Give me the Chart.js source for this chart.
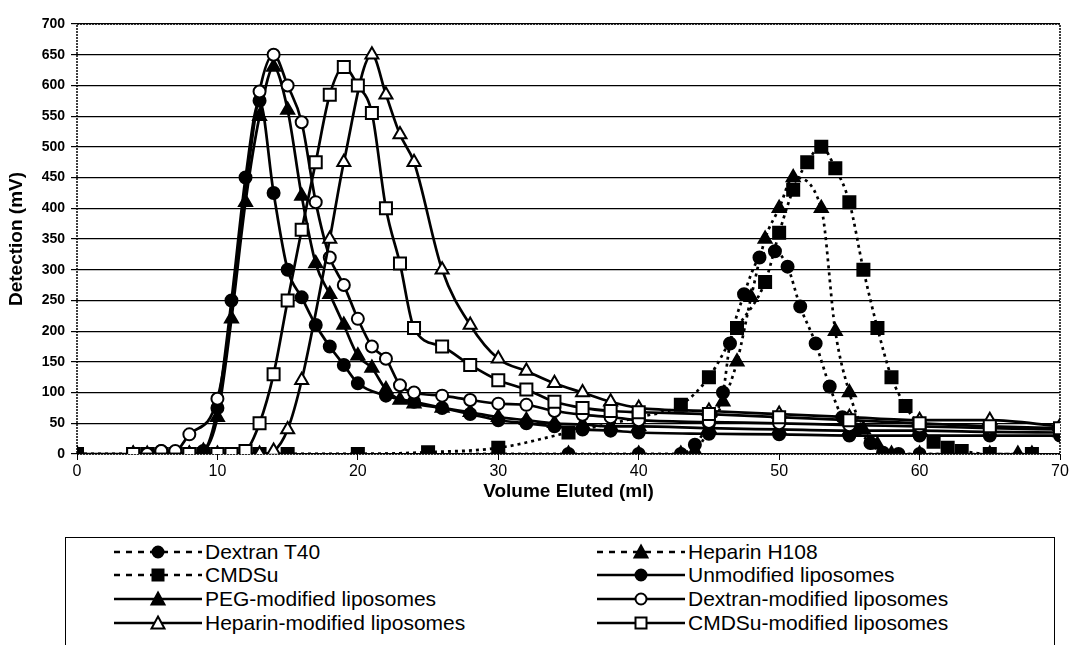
<!DOCTYPE html>
<html>
<head>
<meta charset="utf-8">
<title>Elution profiles</title>
<script src="https://cdn.jsdelivr.net/npm/chart.js@4.4.1/dist/chart.umd.min.js"></script>
<style>
  html, body { margin: 0; padding: 0; background: #fff; overflow: hidden; }
  #wrap { position: relative; width: 1071px; height: 645px; overflow: hidden; font-family: "Liberation Sans", Arial, sans-serif; }
  #chart { position: absolute; left: 0; top: 0; }
  #legend { position: absolute; left: 65px; top: 537px; width: 990px; height: 140px; border: 1px solid #000; box-sizing: border-box; }
  .item { position: absolute; display: flex; align-items: center; height: 24px; font-size: 21px; color: #000; white-space: nowrap; }
  .item svg { margin-right: 3px; }
</style>
</head>
<body>
<div id="wrap">
  <canvas id="chart" width="1071" height="510"></canvas>
  <div id="legend"></div>
</div>
<script>
// volumes (ml) and detector readings (mV)
const dextranT40Vol = [0, 35, 40, 43, 44, 45, 46, 46.5, 47.5, 48.6, 49.7, 50.6, 51.5, 52.6, 53.6, 54.5, 55.5, 56.5, 57.4, 58.5, 60, 62];
const dextranT40Det = [0, 0, 0, 0, 15, 50, 100, 180, 260, 320, 330, 305, 240, 180, 110, 60, 40, 18, 2, 0, 0, 0];

const heparinH108Vol = [0, 35, 40, 43, 44, 45, 46, 47, 48, 49, 50, 51, 53, 54, 55, 56, 57, 58, 60, 62, 65, 67, 68];
const heparinH108Det = [0, 0, 0, 0, 5, 40, 85, 150, 255, 350, 400, 450, 400, 200, 100, 40, 15, 0, 0, 0, 0, 0, 0];

const cmdsuVol = [0, 4, 5, 6, 7, 8, 9, 10, 11, 12, 13, 15, 20, 25, 30, 35, 40, 43, 45, 47, 49, 50, 51, 52, 53, 54, 55, 56, 57, 58, 59, 60, 61, 62, 63, 65, 68];
const cmdsuDet = [0, 0, 0, 0, 0, 0, 0, 0, 0, 0, 0, 0, 0, 3, 10, 35, 60, 80, 125, 205, 280, 360, 430, 475, 500, 465, 410, 300, 205, 125, 78, 45, 20, 10, 5, 0, 0];

const unmodVol = [0, 4, 5, 6, 7, 8, 9, 10, 11, 12, 13, 14, 15, 16, 17, 18, 19, 20, 22, 24, 26, 28, 30, 32, 34, 36, 38, 40, 45, 50, 55, 60, 65, 70];
const unmodDet = [0, 0, 0, 5, 0, 0, 5, 75, 250, 450, 575, 425, 300, 255, 210, 175, 145, 115, 95, 85, 75, 65, 55, 50, 45, 40, 38, 35, 33, 32, 30, 30, 30, 30];

const pegVol = [4, 5, 6, 7, 8, 9, 10, 11, 12, 13, 14, 15, 16, 17, 18, 19, 20, 21, 22, 23, 24, 26, 28, 30, 32, 34, 36, 38, 40, 45, 50, 55, 60, 65, 70];
const pegDet = [0, 0, 0, 0, 0, 5, 60, 220, 410, 550, 630, 560, 420, 310, 260, 210, 160, 140, 105, 88, 82, 75, 68, 60, 55, 50, 48, 45, 45, 42, 40, 38, 38, 36, 35];

const dextranModVol = [4, 5, 6, 7, 8, 10, 13, 14, 15, 16, 17, 18, 19, 20, 21, 22, 23, 24, 26, 28, 30, 32, 34, 36, 38, 40, 45, 50, 55, 60, 65, 70];
const dextranModDet = [0, 0, 5, 5, 32, 90, 590, 650, 600, 540, 410, 320, 275, 220, 175, 155, 112, 100, 95, 88, 82, 80, 70, 64, 60, 55, 52, 50, 47, 45, 42, 40];

const heparinModVol = [4, 8, 10, 12, 13, 14, 15, 16, 18, 19, 21, 22, 23, 24, 26, 28, 30, 32, 34, 36, 38, 40, 45, 50, 55, 60, 65, 70];
const heparinModDet = [0, 0, 0, 0, 0, 5, 40, 120, 350, 475, 650, 585, 520, 475, 300, 210, 155, 135, 115, 100, 85, 75, 70, 65, 60, 55, 55, 45];

const cmdsuModVol = [4, 8, 10, 11, 12, 13, 14, 15, 16, 17, 18, 19, 20, 21, 22, 23, 24, 26, 28, 30, 32, 34, 36, 38, 40, 45, 50, 55, 60, 65, 70];
const cmdsuModDet = [0, 0, 0, 0, 5, 50, 130, 250, 365, 475, 585, 630, 600, 555, 400, 310, 205, 175, 145, 120, 105, 85, 75, 70, 68, 65, 60, 55, 50, 45, 42];

const seriesNames = [
    'Dextran T40', 'Heparin H108',
    'CMDSu', 'Unmodified liposomes',
    'PEG-modified liposomes', 'Dextran-modified liposomes',
    'Heparin-modified liposomes', 'CMDSu-modified liposomes'
];
const seriesVols = [dextranT40Vol, heparinH108Vol, cmdsuVol, unmodVol, pegVol, dextranModVol, heparinModVol, cmdsuModVol];
const seriesDets = [dextranT40Det, heparinH108Det, cmdsuDet, unmodDet, pegDet, dextranModDet, heparinModDet, cmdsuModDet];

const xTicks = { min: 0, max: 70, step: 10 };
const yTicks = { min: 0, max: 700, step: 50 };

// look of each series: dashed line?, marker, filled?
const looks = [
    { dashed: true,  shape: 'circle',   filled: true },
    { dashed: true,  shape: 'triangle', filled: true },
    { dashed: true,  shape: 'rect',     filled: true },
    { dashed: false, shape: 'circle',   filled: true },
    { dashed: false, shape: 'triangle', filled: true },
    { dashed: false, shape: 'circle',   filled: false },
    { dashed: false, shape: 'triangle', filled: false },
    { dashed: false, shape: 'rect',     filled: false }
];
const markerRadius = { circle: 6, triangle: 7.5, rect: 8.5 };

Chart.defaults.font.family = '"Liberation Sans", Arial, sans-serif';
Chart.defaults.color = '#000';

const frame = {
    id: 'frame',
    beforeDatasetsDraw(chart) {
        const { ctx, chartArea: a } = chart;
        ctx.save();
        ctx.strokeStyle = '#000';
        ctx.lineWidth = 1.5;
        ctx.setLineDash([2, 1]);
        ctx.strokeRect(a.left, a.top, a.right - a.left, a.bottom - a.top);
        ctx.restore();
    }
};

const datasets = seriesNames.map(function(name, i) {
    const look = looks[i];
    return {
        label: name,
        data: seriesVols[i].map((v, j) => ({ x: v, y: seriesDets[i][j] })),
        borderColor: '#000',
        borderWidth: 2.7,
        borderDash: look.dashed ? [3, 4] : [],
        cubicInterpolationMode: 'monotone',
        pointStyle: look.shape,
        pointRadius: markerRadius[look.shape],
        pointBorderWidth: 2,
        pointBorderColor: '#000',
        pointBackgroundColor: look.filled ? '#000' : '#fff',
        fill: false,
        order: seriesNames.length - 1 - i
    };
});

new Chart(document.getElementById('chart').getContext('2d'), {
    type: 'line',
    data: { datasets: datasets },
    options: {
        responsive: false,
        animation: false,
        devicePixelRatio: 1,
        layout: { padding: { top: 24, right: 11, left: 0, bottom: 0 } },
        plugins: { legend: { display: false }, tooltip: { enabled: false } },
        scales: {
            x: {
                type: 'linear',
                min: xTicks.min,
                max: xTicks.max,
                ticks: { stepSize: xTicks.step, font: { size: 16 }, padding: 2, maxRotation: 0 },
                grid: { drawOnChartArea: false, color: '#000', tickLength: 6 },
                border: { display: false },
                title: { display: true, text: 'Volume Eluted (ml)', font: { size: 19, weight: 'bold' }, padding: { top: 0, bottom: 7 } },
                afterFit: function(scale) { scale.height = 510 - 454; }
            },
            y: {
                min: yTicks.min,
                max: yTicks.max,
                ticks: { stepSize: yTicks.step, font: { size: 14, weight: 'bold' }, padding: 6 },
                grid: { color: '#000', lineWidth: 1.2, tickLength: 6 },
                border: { display: false },
                title: { display: true, text: 'Detection (mV)', font: { size: 19, weight: 'bold' }, padding: { top: 5, bottom: 0 } },
                afterFit: function(scale) { scale.width = 77; }
            }
        }
    },
    plugins: [frame]
});

// legend: two columns, row-major like the original
function symbolSvg(look) {
    const ns = 'http://www.w3.org/2000/svg';
    const svg = document.createElementNS(ns, 'svg');
    svg.setAttribute('width', '88');
    svg.setAttribute('height', '20');
    const line = document.createElementNS(ns, 'line');
    line.setAttribute('x1', '0'); line.setAttribute('x2', '88');
    line.setAttribute('y1', '10'); line.setAttribute('y2', '10');
    line.setAttribute('stroke', '#000');
    line.setAttribute('stroke-width', '2.5');
    if (look.dashed) line.setAttribute('stroke-dasharray', '6 6');
    svg.appendChild(line);
    let m;
    if (look.shape === 'circle') {
        m = document.createElementNS(ns, 'circle');
        m.setAttribute('cx', '44'); m.setAttribute('cy', '10'); m.setAttribute('r', '5.5');
    } else if (look.shape === 'rect') {
        m = document.createElementNS(ns, 'rect');
        m.setAttribute('x', '38.5'); m.setAttribute('y', '4.5');
        m.setAttribute('width', '11'); m.setAttribute('height', '11');
    } else {
        m = document.createElementNS(ns, 'polygon');
        m.setAttribute('points', '44,3.5 50.5,15.5 37.5,15.5');
    }
    m.setAttribute('fill', look.filled ? '#000' : '#fff');
    m.setAttribute('stroke', '#000');
    m.setAttribute('stroke-width', '2');
    svg.appendChild(m);
    return svg;
}

const legendEl = document.getElementById('legend');
const colLeft = [48, 531];
const rowTop = [2, 25, 49, 73];
seriesNames.forEach(function(name, i) {
    const item = document.createElement('div');
    item.className = 'item';
    item.style.left = colLeft[i % 2] + 'px';
    item.style.top = rowTop[Math.floor(i / 2)] + 'px';
    item.appendChild(symbolSvg(looks[i]));
    const span = document.createElement('span');
    span.textContent = name;
    item.appendChild(span);
    legendEl.appendChild(item);
});
</script>
</body>
</html>
